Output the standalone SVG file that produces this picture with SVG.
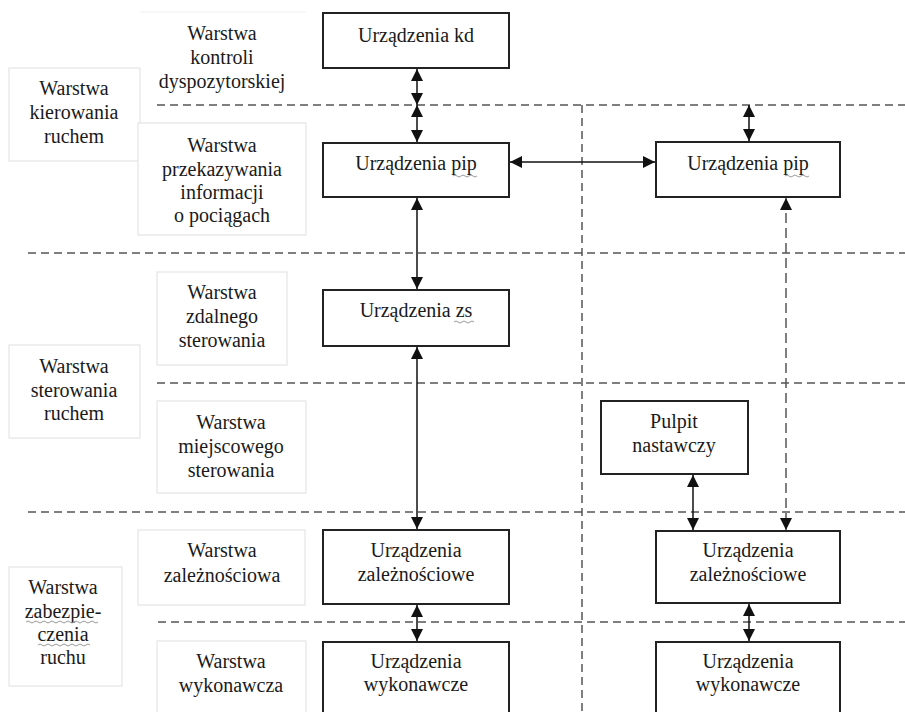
<svg xmlns="http://www.w3.org/2000/svg" width="905" height="712" viewBox="0 0 905 712">
  <defs>
    <marker id="ah" viewBox="0 0 12 12" refX="12" refY="6" markerWidth="12" markerHeight="12" markerUnits="userSpaceOnUse" orient="auto-start-reverse">
      <path d="M0,0 L12,6 L0,12 z" fill="#111"/>
    </marker>
  </defs>
  <style>
    text { font-family: 'Liberation Serif', 'DejaVu Serif', serif; font-size: 20px; fill: #1a1a1a; text-anchor: middle; }
    .box { fill: #fff; stroke: #222; stroke-width: 2; }
    .lbl { fill: #fff; stroke: #e4e4e4; stroke-width: 1.2; }
    .layer { stroke: #555; stroke-width: 1.5; stroke-dasharray: 8 5; fill: none; }
    .conn { stroke: #111; stroke-width: 1.5; fill: none; marker-start: url(#ah); marker-end: url(#ah); }
    .conn-d { stroke: #555; stroke-width: 1.5; stroke-dasharray: 10 5; fill: none; marker-start: url(#ah); marker-end: url(#ah); }
    .wavy { stroke: #9a9a9a; stroke-width: 1; fill: none; }
  </style>
  <rect width="905" height="712" fill="#fff"/>

  <g font-family="Liberation Serif, DejaVu Serif, serif">
  <!-- layer separators -->
  <g id="layers">
    <line class="layer" x1="157" y1="105" x2="905" y2="105"/>
    <line class="layer" x1="28" y1="253" x2="905" y2="253"/>
    <line class="layer" x1="157" y1="383" x2="905" y2="383"/>
    <line class="layer" x1="28" y1="512" x2="905" y2="512"/>
    <line class="layer" x1="158" y1="622" x2="905" y2="622"/>
    <line class="layer" x1="582" y1="105" x2="582" y2="712"/>
  </g>

  <!-- layer labels -->
  <g id="label-kierowania">
    <rect class="lbl" x="9" y="68" width="131" height="93"/>
    <text x="74" y="95">Warstwa</text>
    <text x="74" y="119">kierowania</text>
    <text x="74" y="143">ruchem</text>
  </g>
  <g id="label-kontroli">
    <line x1="140" y1="12" x2="306" y2="12" stroke="#efefef" stroke-width="1"/>
    <text x="222" y="40">Warstwa</text>
    <text x="222" y="64">kontroli</text>
    <text x="222" y="88">dyspozytorskiej</text>
  </g>
  <g id="label-przekazywania">
    <rect class="lbl" x="138" y="123" width="168" height="112"/>
    <text x="222" y="152">Warstwa</text>
    <text x="222" y="176">przekazywania</text>
    <text x="222" y="199">informacji</text>
    <text x="222" y="222">o pociągach</text>
  </g>
  <g id="label-zdalnego">
    <rect class="lbl" x="157" y="272" width="130" height="93"/>
    <text x="222" y="299">Warstwa</text>
    <text x="222" y="323">zdalnego</text>
    <text x="222" y="347">sterowania</text>
  </g>
  <g id="label-sterowania-ruchem">
    <rect class="lbl" x="9" y="345" width="131" height="93"/>
    <text x="74" y="373">Warstwa</text>
    <text x="74" y="397">sterowania</text>
    <text x="74" y="420">ruchem</text>
  </g>
  <g id="label-miejscowego">
    <rect class="lbl" x="157" y="401" width="149" height="92"/>
    <text x="231" y="429">Warstwa</text>
    <text x="231" y="453">miejscowego</text>
    <text x="231" y="477">sterowania</text>
  </g>
  <g id="label-zaleznosciowa">
    <rect class="lbl" x="138" y="530" width="167" height="75"/>
    <text x="222" y="557">Warstwa</text>
    <text x="222" y="582">zależnościowa</text>
  </g>
  <g id="label-zabezpieczenia">
    <rect class="lbl" x="9" y="567" width="113" height="119"/>
    <text x="63" y="594">Warstwa</text>
    <text x="63" y="618">zabezpie-</text>
    <text x="63" y="641">czenia</text>
    <text x="63" y="664">ruchu</text>
    <path class="wavy" d="M26,622 q2,-2 4,0 t4,0 t4,0 t4,0 t4,0 t4,0 t4,0 t4,0 t4,0 t4,0 t4,0 t4,0 t4,0 t4,0 t4,0 t4,0 t4,0 t4,0"/>
    <path class="wavy" d="M38,645 q2,-2 4,0 t4,0 t4,0 t4,0 t4,0 t4,0 t4,0 t4,0 t4,0 t4,0 t4,0 t4,0 t4,0"/>
  </g>
  <g id="label-wykonawcza">
    <rect class="lbl" x="157" y="641" width="149" height="80"/>
    <text x="231" y="668">Warstwa</text>
    <text x="231" y="692">wykonawcza</text>
  </g>

  <!-- connectors -->
  <g id="connectors">
    <line class="conn" x1="417" y1="69" x2="417" y2="105"/>
    <line class="conn" x1="417" y1="105" x2="417" y2="142"/>
    <line class="conn" x1="417" y1="198" x2="417" y2="289"/>
    <line class="conn" x1="417" y1="347" x2="417" y2="529"/>
    <line class="conn" x1="417" y1="605" x2="417" y2="641"/>
    <line class="conn" x1="510" y1="162" x2="655" y2="162"/>
    <line class="conn" x1="749" y1="105" x2="749" y2="141"/>
    <line class="conn-d" x1="786" y1="198" x2="786" y2="530"/>
    <line class="conn" x1="693" y1="475" x2="693" y2="530"/>
    <line class="conn" x1="749" y1="604" x2="749" y2="641"/>
  </g>

  <!-- device nodes -->
  <g id="node-kd">
    <rect class="box" x="323" y="13" width="186" height="55"/>
    <text x="416" y="42">Urządzenia kd</text>
  </g>
  <g id="node-pip-left">
    <rect class="box" x="323" y="143" width="186" height="54"/>
    <text x="416" y="170">Urządzenia pip</text>
    <path class="wavy" d="M453,176 q2,-2 4,0 t4,0 t4,0 t4,0 t4,0 t4,0"/>
  </g>
  <g id="node-pip-right">
    <rect class="box" x="656" y="142" width="184" height="55"/>
    <text x="748" y="170">Urządzenia pip</text>
    <path class="wavy" d="M785,176 q2,-2 4,0 t4,0 t4,0 t4,0 t4,0 t4,0"/>
  </g>
  <g id="node-zs">
    <rect class="box" x="323" y="290" width="186" height="56"/>
    <text x="416" y="317">Urządzenia zs</text>
    <path class="wavy" d="M454,322 q2,-2 4,0 t4,0 t4,0 t4,0 t4,0"/>
  </g>
  <g id="node-pulpit">
    <rect class="box" x="601" y="401" width="147" height="73"/>
    <text x="674" y="428">Pulpit</text>
    <text x="674" y="452">nastawczy</text>
  </g>
  <g id="node-zal-left">
    <rect class="box" x="323" y="530" width="186" height="74"/>
    <text x="416" y="557">Urządzenia</text>
    <text x="416" y="581">zależnościowe</text>
  </g>
  <g id="node-zal-right">
    <rect class="box" x="656" y="531" width="184" height="72"/>
    <text x="748" y="557">Urządzenia</text>
    <text x="748" y="581">zależnościowe</text>
  </g>
  <g id="node-wyk-left">
    <rect class="box" x="323" y="642" width="186" height="80"/>
    <text x="416" y="668">Urządzenia</text>
    <text x="416" y="691">wykonawcze</text>
  </g>
  <g id="node-wyk-right">
    <rect class="box" x="656" y="642" width="184" height="80"/>
    <text x="748" y="668">Urządzenia</text>
    <text x="748" y="691">wykonawcze</text>
  </g>
  </g>
</svg>
